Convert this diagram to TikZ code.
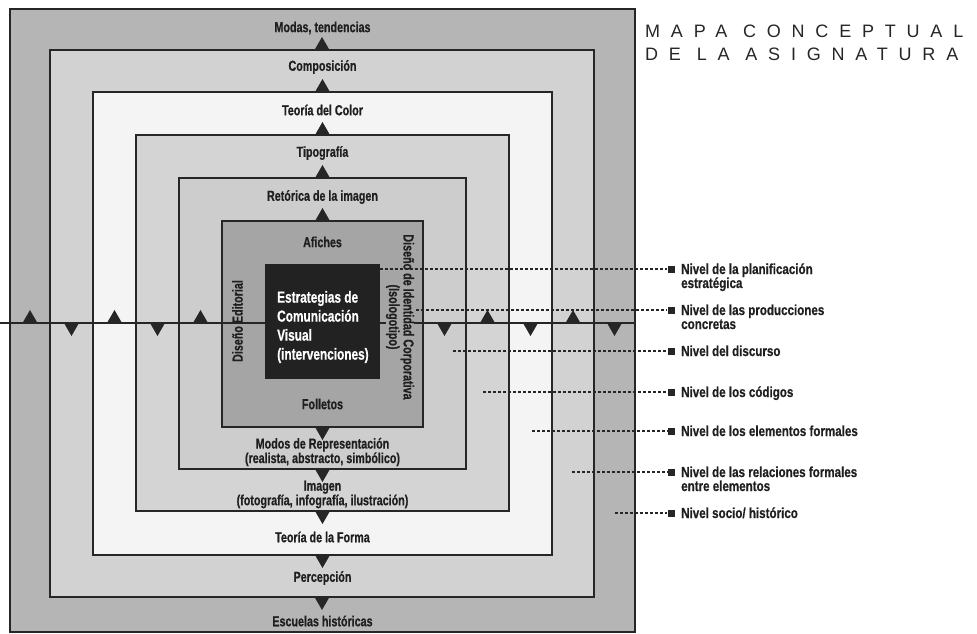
\documentclass[tikz,border=0pt]{standalone}
\usepackage{fontspec}
\setmainfont{Liberation Sans}
\newfontfamily\condfont{Liberation Sans}[FakeStretch=0.74, BoldFeatures={FakeBold=0.6}]
\newfontfamily\levelfont{Liberation Sans}[FakeStretch=0.8, BoldFeatures={FakeBold=0.6}]
\newfontfamily\titlefont{Liberation Sans}[LetterSpace=60]
\usepackage{tikz}
\usetikzlibrary{positioning}
\definecolor{bandA}{HTML}{B5B5B5}
\definecolor{bandB}{HTML}{D2D2D2}
\definecolor{bandC}{HTML}{F4F4F4}
\definecolor{bandD}{HTML}{D4D4D4}
\definecolor{bandE}{HTML}{CDCDCD}
\definecolor{bandF}{HTML}{A5A5A5}
\definecolor{core}{HTML}{222222}
\definecolor{edge}{HTML}{262626}
\tikzset{
  band/.style={draw=edge, line width=2.6pt, inner sep=0pt, outer sep=0pt},
  lab/.style={font=\condfont\bfseries\fontsize{14.5}{14.5}\selectfont, text=black!88, align=center, inner sep=1pt},
  level/.style={font=\levelfont\bfseries\fontsize{14.5}{14}\selectfont, text=black!88, align=left, inner sep=0pt, anchor=base west},
  levelmark/.style={fill=edge, minimum size=7pt, inner sep=0pt},
  dots/.style={draw=edge, line width=1.8pt, dash pattern=on 3pt off 2pt},
}

\begin{document}
\begin{tikzpicture}[x=1pt, y=-1pt]
\useasboundingbox (0,0) rectangle (977,634);
\node[band, fill=bandA, minimum width=625pt, minimum height=623pt] (sq1) at (322.5,320.5) {};
\node[band, fill=bandB, minimum width=544pt, minimum height=547pt] (sq2) at (322,323.5) {};
\node[band, fill=bandC, minimum width=459pt, minimum height=463pt] (sq3) at (322.5,323.5) {};
\node[band, fill=bandD, minimum width=373pt, minimum height=376pt] (sq4) at (322.5,323) {};
\node[band, fill=bandE, minimum width=287pt, minimum height=291pt] (sq5) at (322.5,323.5) {};
\node[band, fill=bandF, minimum width=201pt, minimum height=206pt] (sq6) at (322.5,324) {};
\coordinate (hl) at (0,323);
\coordinate (hr) at (635,323);
\draw[edge, line width=2.6pt] (hl) -- (hr);
\node[band, draw=none, fill=core, minimum size=115pt] (core) at (322.5,321.5) {};

\foreach \s in {sq2,sq3,sq4,sq5,sq6}{
  \fill[edge] (\s.north) ++(-7.5,0) -- ++(15,0) -- ++(-7.5,-13) -- cycle;
  \fill[edge] (\s.south) ++(-7.5,0) -- ++(15,0) -- ++(-7.5,13) -- cycle;
}
\foreach \x in {30,114.5,200.5,487.5,573}
  \fill[edge] (\x-7.5,323) -- (\x+7.5,323) -- (\x,310) -- cycle;
\foreach \x in {71.5,157.5,444.5,530.5,614.5}
  \fill[edge] (\x-7.5,323) -- (\x+7.5,323) -- (\x,336) -- cycle;

\node[lab] (modas) at (322.5,28) {Modas, tendencias};
\node[lab] (comp) at (322.5,67) {Composición};
\node[lab] (color) at (322.5,110) {Teoría del Color};
\node[lab] (tipo) at (322.5,153) {Tipografía};
\node[lab] (retorica) at (322.5,197) {Retórica de la imagen};
\node[lab] (afiches) at (322.5,242) {Afiches};
\node[lab] (folletos) at (322.5,404) {Folletos};
\node[lab] (modos) at (322.5,452) {Modos de Representación\\(realista, abstracto, simbólico)};
\node[lab] (imagen) at (322.5,494.5) {Imagen\\(fotografía, infografía, ilustración)};
\node[lab] (forma) at (322.5,537) {Teoría de la Forma};
\node[lab] (percep) at (322.5,578) {Percepción};
\node[lab] (escuelas) at (322.5,621) {Escuelas históricas};
\node[lab, rotate=90] (editorial) at (237.5,321) {Diseño Editorial};
\node[lab, rotate=-90, fill=bandF, inner sep=0pt] (identidad) at (400,317) {Diseño de Identidad Corporativa\\(Isologotipo)};
\node[lab, text=white, align=left, font=\condfont\bfseries\fontsize{16}{19}\selectfont, anchor=west] (estrat) at (276,327) {Estrategias de\\Comunicación\\Visual\\(intervenciones)};

\foreach \i/\sx/\y in {1/380/269, 2/416/310, 3/453/351, 4/483/392, 5/532/431, 6/572/472, 7/615/513}{
  \node[levelmark] (m\i) at (671,\y) {};
  \coordinate (s\i) at (\sx,\y);
  \draw[dots] (s\i) -- (m\i);
}
\node[level] (l1) at (681,288) {Nivel de la planificación\\estratégica};
\node[level] (l2) at (681,329) {Nivel de las producciones\\concretas};
\node[level] (l3) at (681,356) {Nivel del discurso};
\node[level] (l4) at (681,397) {Nivel de los códigos};
\node[level] (l5) at (681,436) {Nivel de los elementos formales};
\node[level] (l6) at (681,491) {Nivel de las relaciones formales\\entre elementos};
\node[level] (l7) at (681,518) {Nivel socio/ histórico};

\node[font=\titlefont\fontsize{18}{23}\selectfont, text=black!85, align=left, inner sep=0pt, anchor=north west] (title) at (645,25) {MAPA CONCEPTUAL\\DE LA ASIGNATURA};
\end{tikzpicture}
\end{document}
